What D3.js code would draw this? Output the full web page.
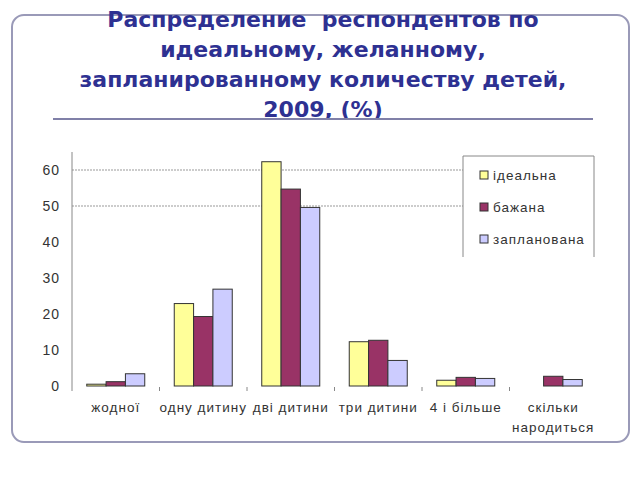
<!DOCTYPE html>
<html>
<head>
<meta charset="utf-8">
<title>Распределение респондентов</title>
<script src="https://d3js.org/d3.v7.min.js"></script>
<style>
body { margin: 0; background: #fff; }
svg { display: block; }
.titulo { font-family: "DejaVu Sans", Verdana, sans-serif; font-weight: bold; font-size: 22px; fill: #2e3192; }
.lbl { font-family: "Liberation Sans", Arial, sans-serif; font-size: 13.5px; fill: #333; letter-spacing: 1px; }
</style>
</head>
<body>
<svg id="myCanvas" width="640" height="480"></svg>
<script>
// data
var categories = ["жодної", "одну дитину", "дві дитини", "три дитини", "4 і більше", "скільки народиться"];
var series = ["ідеальна", "бажана", "запланована"];
var idealna = [0.5, 22.9, 62.3, 12.3, 1.6, 0];
var bazhana = [1.2, 19.3, 54.7, 12.7, 2.4, 2.7];
var zaplanovana = [3.4, 26.9, 49.6, 7.1, 2.1, 1.8];
var yTicks = [0, 10, 20, 30, 40, 50, 60];
var gridTicks = [50, 60];
var titleLines = ["Распределение  респондентов по", "идеальному, желанному,", "запланированному количеству детей,", "2009, (%)"];

var values = [idealna, bazhana, zaplanovana];
var colors = ["#ffff99", "#993366", "#ccccff"];

var svg = d3.select("#myCanvas");

// frame
svg.append("rect")
    .attr("x", 12).attr("y", 15).attr("width", 617).attr("height", 427)
    .attr("rx", 12).attr("ry", 12)
    .attr("fill", "#fff").attr("stroke", "#9a9ab8").attr("stroke-width", 2);

// title
svg.selectAll(".titulo").data(titleLines).join("text")
    .attr("class", "titulo")
    .attr("x", 323).attr("y", (d, i) => 27 + i * 30)
    .attr("text-anchor", "middle")
    .attr("xml:space", "preserve")
    .text(d => d);

svg.append("line")
    .attr("x1", 53).attr("x2", 593).attr("y1", 119).attr("y2", 119)
    .attr("stroke", "#8080a8").attr("stroke-width", 2);

// scales
var x0 = d3.scaleBand(categories, [72, 597]);
var groupW = 58;
var x1 = d3.scaleBand(series, [0, groupW]);
var y = d3.scaleLinear([0, 65], [386, 152]);

// grid
svg.selectAll(".grid").data(gridTicks).join("line")
    .attr("x1", 72).attr("x2", 463)
    .attr("y1", d => y(d)).attr("y2", d => y(d))
    .attr("stroke", "#999").attr("stroke-dasharray", "2,1");

// y axis
var yAxis = svg.append("g")
    .attr("transform", "translate(72,0)")
    .call(d3.axisLeft(y).tickValues(yTicks).tickSize(0).tickPadding(12));
yAxis.select(".domain").attr("stroke", "#888").attr("d", "M0,152V391");
yAxis.selectAll("text").attr("class", "lbl").attr("fill", null)
    .style("font-family", "'Liberation Sans', Arial, sans-serif").style("font-size", "14px");

// x ticks between categories
svg.selectAll(".xt").data(categories.slice(1)).join("line")
    .attr("x1", d => x0(d)).attr("x2", d => x0(d))
    .attr("y1", 387).attr("y2", 391)
    .attr("stroke", "#888");

// bars
series.forEach(function (s, si) {
    svg.append("g").selectAll("rect")
        .data(categories.map((c, ci) => ({ c: c, v: values[si][ci] })).filter(d => d.v > 0))
        .join("rect")
        .attr("x", d => x0(d.c) + (x0.bandwidth() - groupW) / 2 + x1(s))
        .attr("y", d => y(d.v))
        .attr("width", x1.bandwidth())
        .attr("height", d => y(0) - y(d.v))
        .attr("fill", colors[si])
        .attr("stroke", "#333").attr("stroke-width", 1);
});

// x labels
svg.selectAll(".xl").data(categories).join("text")
    .attr("class", "lbl")
    .attr("text-anchor", "middle")
    .attr("x", d => x0(d) + x0.bandwidth() / 2)
    .attr("y", 412)
    .each(function (d) {
        var t = d3.select(this);
        var parts = d == "скільки народиться" ? ["скільки", "народиться"] : [d];
        parts.forEach((p, i) => t.append("tspan")
            .attr("x", x0(d) + x0.bandwidth() / 2)
            .attr("dy", i ? 20 : 0)
            .text(p));
    });

// legend
var lg = svg.append("g").attr("transform", "translate(463,156)");
lg.append("rect").attr("width", 131).attr("height", 104).attr("fill", "#fff");
lg.append("path").attr("d", "M0,101V0H131V101").attr("fill", "none").attr("stroke", "#888");
series.forEach(function (s, i) {
    lg.append("rect")
        .attr("x", 17).attr("y", 15 + i * 32).attr("width", 8).attr("height", 8)
        .attr("fill", colors[i]).attr("stroke", "#333");
    lg.append("text").attr("class", "lbl")
        .attr("x", 30).attr("y", 24 + i * 32)
        .text(s);
});
</script>
</body>
</html>
